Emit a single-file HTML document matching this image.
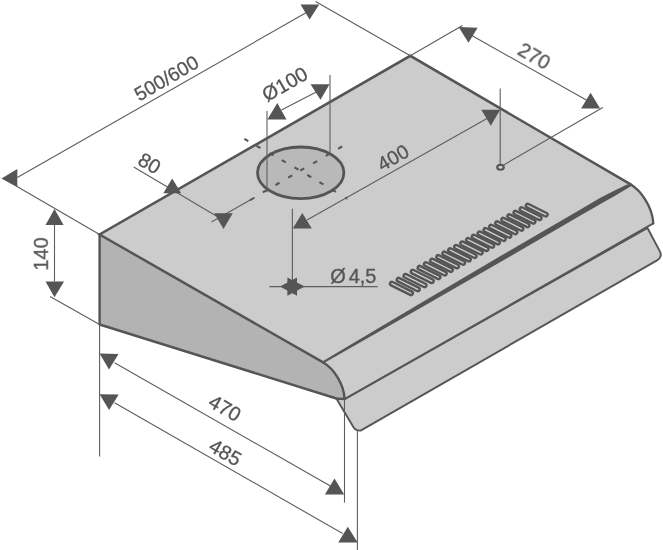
<!DOCTYPE html>
<html><head><meta charset="utf-8"><title>Hood dimensions</title>
<style>
html,body{margin:0;padding:0;background:#fff;}
body{width:663px;height:550px;overflow:hidden;font-family:"Liberation Sans",sans-serif;}
svg{display:block;}
svg text{font-family:"Liberation Sans",sans-serif;}
</style></head><body>
<svg width="663" height="550" viewBox="0 0 663 550">
<rect width="663" height="550" fill="#ffffff"/>
<path d="M336.40,398.50 L352.3,425.3 Q355.0,430.9 360.6,430.6 L656.6,260.6 Q662.6,257.0 660.0,251.6 L647.5,228.0 L344.50,399.10 Z" fill="#cccccc" stroke="#555555" stroke-width="1.9" stroke-linejoin="round"/>
<path d="M323.60,362.70 L631.10,184.70 C640.0,190.0 652.5,206.0 653.30,223.40 L344.50,399.10 C344.3,385 334,368.6 323.60,362.70 Z" fill="#cccccc"/>
<path d="M99.60,234.50 L323.60,362.70 C334,368.6 344.3,385 344.50,399.10 L336.40,398.50 L99.60,324.50 Z" fill="#b3b3b3"/>
<path d="M99.60,234.50 L410.30,55.80 L631.10,184.70 L323.60,362.70 Z" fill="#cccccc"/>
<path d="M653.30,223.40 L344.50,399.10" fill="none" stroke="#555555" stroke-width="1.8" stroke-linecap="round"/>
<path d="M631.10,184.70 C640.0,190.0 652.5,206.0 653.30,223.40" fill="none" stroke="#555555" stroke-width="2.3" stroke-linecap="round"/>
<path d="M323.60,362.70 C334,368.6 344.3,385 344.50,399.10 L336.40,398.50 L99.60,324.50 L99.60,234.50" fill="none" stroke="#555555" stroke-width="2.4" stroke-linejoin="round" stroke-linecap="round"/>
<path d="M323.60,362.70 L99.60,234.50 L410.30,55.80 L631.10,184.70" fill="none" stroke="#555555" stroke-width="2.5" stroke-linejoin="miter" stroke-linecap="round"/>
<polygon points="323.60,360.80 420.00,303.60 510.00,250.40 580.00,209.80 600.00,198.10 615.10,190.30 627.10,184.50 630.80,183.90 630.80,186.20 627.10,188.60 615.10,195.70 600.00,204.20 580.00,215.80 510.00,256.50 420.00,308.20 323.60,363.20" fill="#555555"/>
<ellipse cx="300.7" cy="172.8" rx="43.2" ry="25.8" fill="#b9b9b9" stroke="#555555" stroke-width="2.8"/>
<line x1="262.81" y1="192.45" x2="266.79" y2="190.15" stroke="#555555" stroke-width="2.1"/>
<line x1="275.51" y1="185.05" x2="279.49" y2="182.75" stroke="#555555" stroke-width="2.1"/>
<line x1="288.21" y1="177.65" x2="292.19" y2="175.35" stroke="#555555" stroke-width="2.1"/>
<line x1="300.21" y1="170.65" x2="304.19" y2="168.35" stroke="#555555" stroke-width="2.1"/>
<line x1="313.11" y1="163.35" x2="317.09" y2="161.05" stroke="#555555" stroke-width="2.1"/>
<line x1="325.81" y1="155.95" x2="329.79" y2="153.65" stroke="#555555" stroke-width="2.1"/>
<line x1="338.21" y1="148.75" x2="342.19" y2="146.45" stroke="#555555" stroke-width="2.1"/>
<line x1="244.31" y1="138.85" x2="248.29" y2="141.15" stroke="#555555" stroke-width="2.1"/>
<line x1="256.51" y1="145.85" x2="260.49" y2="148.15" stroke="#555555" stroke-width="2.1"/>
<line x1="269.61" y1="153.15" x2="273.59" y2="155.45" stroke="#555555" stroke-width="2.1"/>
<line x1="281.81" y1="160.15" x2="285.79" y2="162.45" stroke="#555555" stroke-width="2.1"/>
<line x1="294.51" y1="167.35" x2="298.49" y2="169.65" stroke="#555555" stroke-width="2.1"/>
<line x1="307.21" y1="174.95" x2="311.19" y2="177.25" stroke="#555555" stroke-width="2.1"/>
<line x1="319.41" y1="182.15" x2="323.39" y2="184.45" stroke="#555555" stroke-width="2.1"/>
<line x1="331.91" y1="189.55" x2="335.89" y2="191.85" stroke="#555555" stroke-width="2.1"/>
<line x1="391.83" y1="283.66" x2="411.07" y2="293.25" stroke="#555555" stroke-width="6.1" stroke-linecap="round"/>
<line x1="398.63" y1="279.76" x2="417.81" y2="289.32" stroke="#555555" stroke-width="6.1" stroke-linecap="round"/>
<line x1="405.43" y1="275.85" x2="424.56" y2="285.39" stroke="#555555" stroke-width="6.1" stroke-linecap="round"/>
<line x1="412.73" y1="271.66" x2="431.80" y2="281.17" stroke="#555555" stroke-width="6.1" stroke-linecap="round"/>
<line x1="419.53" y1="267.76" x2="438.54" y2="277.24" stroke="#555555" stroke-width="6.1" stroke-linecap="round"/>
<line x1="425.83" y1="264.14" x2="444.79" y2="273.60" stroke="#555555" stroke-width="6.1" stroke-linecap="round"/>
<line x1="432.03" y1="260.59" x2="450.93" y2="270.01" stroke="#555555" stroke-width="6.1" stroke-linecap="round"/>
<line x1="438.23" y1="257.03" x2="457.07" y2="266.42" stroke="#555555" stroke-width="6.1" stroke-linecap="round"/>
<line x1="444.33" y1="253.53" x2="463.12" y2="262.89" stroke="#555555" stroke-width="6.1" stroke-linecap="round"/>
<line x1="450.13" y1="250.20" x2="468.86" y2="259.53" stroke="#555555" stroke-width="6.1" stroke-linecap="round"/>
<line x1="456.03" y1="246.81" x2="474.70" y2="256.12" stroke="#555555" stroke-width="6.1" stroke-linecap="round"/>
<line x1="462.13" y1="243.31" x2="480.74" y2="252.59" stroke="#555555" stroke-width="6.1" stroke-linecap="round"/>
<line x1="468.03" y1="239.92" x2="486.59" y2="249.17" stroke="#555555" stroke-width="6.1" stroke-linecap="round"/>
<line x1="473.73" y1="236.65" x2="492.23" y2="245.87" stroke="#555555" stroke-width="6.1" stroke-linecap="round"/>
<line x1="479.53" y1="233.32" x2="497.97" y2="242.52" stroke="#555555" stroke-width="6.1" stroke-linecap="round"/>
<line x1="485.43" y1="229.93" x2="503.82" y2="239.10" stroke="#555555" stroke-width="6.1" stroke-linecap="round"/>
<line x1="491.13" y1="226.66" x2="509.46" y2="235.80" stroke="#555555" stroke-width="6.1" stroke-linecap="round"/>
<line x1="497.13" y1="223.22" x2="515.40" y2="232.33" stroke="#555555" stroke-width="6.1" stroke-linecap="round"/>
<line x1="503.23" y1="219.72" x2="521.45" y2="228.80" stroke="#555555" stroke-width="6.1" stroke-linecap="round"/>
<line x1="509.33" y1="216.22" x2="527.49" y2="225.27" stroke="#555555" stroke-width="6.1" stroke-linecap="round"/>
<line x1="515.43" y1="212.71" x2="533.53" y2="221.74" stroke="#555555" stroke-width="6.1" stroke-linecap="round"/>
<line x1="521.63" y1="209.16" x2="539.67" y2="218.15" stroke="#555555" stroke-width="6.1" stroke-linecap="round"/>
<line x1="527.73" y1="205.65" x2="545.72" y2="214.62" stroke="#555555" stroke-width="6.1" stroke-linecap="round"/>
<line x1="391.83" y1="283.66" x2="411.07" y2="293.25" stroke="#d0d0d0" stroke-width="1.3" stroke-linecap="round"/>
<line x1="398.63" y1="279.76" x2="417.81" y2="289.32" stroke="#d0d0d0" stroke-width="1.3" stroke-linecap="round"/>
<line x1="405.43" y1="275.85" x2="424.56" y2="285.39" stroke="#d0d0d0" stroke-width="1.3" stroke-linecap="round"/>
<line x1="412.73" y1="271.66" x2="431.80" y2="281.17" stroke="#d0d0d0" stroke-width="1.3" stroke-linecap="round"/>
<line x1="419.53" y1="267.76" x2="438.54" y2="277.24" stroke="#d0d0d0" stroke-width="1.3" stroke-linecap="round"/>
<line x1="425.83" y1="264.14" x2="444.79" y2="273.60" stroke="#d0d0d0" stroke-width="1.3" stroke-linecap="round"/>
<line x1="432.03" y1="260.59" x2="450.93" y2="270.01" stroke="#d0d0d0" stroke-width="1.3" stroke-linecap="round"/>
<line x1="438.23" y1="257.03" x2="457.07" y2="266.42" stroke="#d0d0d0" stroke-width="1.3" stroke-linecap="round"/>
<line x1="444.33" y1="253.53" x2="463.12" y2="262.89" stroke="#d0d0d0" stroke-width="1.3" stroke-linecap="round"/>
<line x1="450.13" y1="250.20" x2="468.86" y2="259.53" stroke="#d0d0d0" stroke-width="1.3" stroke-linecap="round"/>
<line x1="456.03" y1="246.81" x2="474.70" y2="256.12" stroke="#d0d0d0" stroke-width="1.3" stroke-linecap="round"/>
<line x1="462.13" y1="243.31" x2="480.74" y2="252.59" stroke="#d0d0d0" stroke-width="1.3" stroke-linecap="round"/>
<line x1="468.03" y1="239.92" x2="486.59" y2="249.17" stroke="#d0d0d0" stroke-width="1.3" stroke-linecap="round"/>
<line x1="473.73" y1="236.65" x2="492.23" y2="245.87" stroke="#d0d0d0" stroke-width="1.3" stroke-linecap="round"/>
<line x1="479.53" y1="233.32" x2="497.97" y2="242.52" stroke="#d0d0d0" stroke-width="1.3" stroke-linecap="round"/>
<line x1="485.43" y1="229.93" x2="503.82" y2="239.10" stroke="#d0d0d0" stroke-width="1.3" stroke-linecap="round"/>
<line x1="491.13" y1="226.66" x2="509.46" y2="235.80" stroke="#d0d0d0" stroke-width="1.3" stroke-linecap="round"/>
<line x1="497.13" y1="223.22" x2="515.40" y2="232.33" stroke="#d0d0d0" stroke-width="1.3" stroke-linecap="round"/>
<line x1="503.23" y1="219.72" x2="521.45" y2="228.80" stroke="#d0d0d0" stroke-width="1.3" stroke-linecap="round"/>
<line x1="509.33" y1="216.22" x2="527.49" y2="225.27" stroke="#d0d0d0" stroke-width="1.3" stroke-linecap="round"/>
<line x1="515.43" y1="212.71" x2="533.53" y2="221.74" stroke="#d0d0d0" stroke-width="1.3" stroke-linecap="round"/>
<line x1="521.63" y1="209.16" x2="539.67" y2="218.15" stroke="#d0d0d0" stroke-width="1.3" stroke-linecap="round"/>
<line x1="527.73" y1="205.65" x2="545.72" y2="214.62" stroke="#d0d0d0" stroke-width="1.3" stroke-linecap="round"/>
<ellipse cx="500.5" cy="167.3" rx="3.25" ry="2.45" fill="#d6d6d6" stroke="#555555" stroke-width="2.2"/>
<line x1="99.6" y1="234.5" x2="16.6" y2="186.3" stroke="#5e5e5e" stroke-width="1.1"/>
<line x1="17.3" y1="177.4" x2="309.5" y2="10.8" stroke="#5e5e5e" stroke-width="1.1"/>
<line x1="410.3" y1="55.8" x2="315.6" y2="1.5" stroke="#5e5e5e" stroke-width="1.1"/>
<line x1="410.3" y1="55.8" x2="462.5" y2="25.6" stroke="#5e5e5e" stroke-width="1.1"/>
<line x1="470.0" y1="34.5" x2="588.5" y2="101.2" stroke="#5e5e5e" stroke-width="1.1"/>
<line x1="503.3" y1="165.2" x2="602.8" y2="107.6" stroke="#5e5e5e" stroke-width="1.1"/>
<line x1="54.5" y1="225" x2="54.5" y2="281.5" stroke="#5e5e5e" stroke-width="1.1"/>
<line x1="50.0" y1="296.4" x2="99.6" y2="324.5" stroke="#5e5e5e" stroke-width="1.1"/>
<line x1="133.7" y1="167.0" x2="223.5" y2="220.2" stroke="#5e5e5e" stroke-width="1.1"/>
<line x1="211.5" y1="222.0" x2="253.7" y2="198.1" stroke="#5e5e5e" stroke-width="1.1"/>
<line x1="267.0" y1="111.0" x2="267.0" y2="192.3" stroke="#5e5e5e" stroke-width="1.1"/>
<line x1="330.0" y1="75.0" x2="330.0" y2="155.4" stroke="#5e5e5e" stroke-width="1.1"/>
<line x1="281.5" y1="110.1" x2="317.2" y2="91.5" stroke="#5e5e5e" stroke-width="1.1"/>
<line x1="292.4" y1="208.7" x2="292.4" y2="286.6" stroke="#5e5e5e" stroke-width="1.1"/>
<line x1="307.0" y1="220.1" x2="487.9" y2="117.9" stroke="#5e5e5e" stroke-width="1.1"/>
<line x1="500.2" y1="88.4" x2="500.2" y2="165.0" stroke="#5e5e5e" stroke-width="1.1"/>
<line x1="269.4" y1="286.6" x2="377.6" y2="286.6" stroke="#5e5e5e" stroke-width="1.1"/>
<line x1="99.6" y1="324.5" x2="99.6" y2="456.4" stroke="#5e5e5e" stroke-width="1.1"/>
<line x1="114.5" y1="362.7" x2="330.4" y2="486.0" stroke="#5e5e5e" stroke-width="1.1"/>
<line x1="114.5" y1="402.7" x2="342.7" y2="533.6" stroke="#5e5e5e" stroke-width="1.1"/>
<line x1="344.5" y1="399.0" x2="344.5" y2="502.7" stroke="#5e5e5e" stroke-width="1.1"/>
<line x1="357.4" y1="431.0" x2="357.4" y2="550.0" stroke="#5e5e5e" stroke-width="1.1"/>
<line x1="250.5" y1="199.9" x2="253.9" y2="198.0" stroke="#555555" stroke-width="1.8" stroke-linecap="round"/>
<line x1="345.6" y1="196.8" x2="347.2" y2="199.4" stroke="#555555" stroke-width="1.2"/>
<polygon points="1.50,178.50 17.30,169.10 17.30,187.30" fill="#555555"/>
<polygon points="300.50,4.50 319.20,4.50 309.60,19.60" fill="#555555"/>
<polygon points="45.50,224.90 63.60,224.90 54.50,209.10" fill="#555555"/>
<polygon points="45.50,281.50 64.00,281.50 54.50,297.30" fill="#555555"/>
<polygon points="163.30,193.20 181.20,193.20 172.20,178.60" fill="#555555"/>
<polygon points="214.20,213.20 232.80,213.20 223.50,228.90" fill="#555555"/>
<polygon points="267.40,119.40 286.50,119.40 277.30,103.10" fill="#555555"/>
<polygon points="310.50,84.30 329.60,84.30 320.50,99.80" fill="#555555"/>
<polygon points="292.80,228.50 311.80,228.50 302.30,212.90" fill="#555555"/>
<polygon points="481.30,109.70 500.20,109.70 490.80,125.70" fill="#555555"/>
<polygon points="458.60,27.10 477.60,27.80 468.50,42.80" fill="#555555"/>
<polygon points="581.10,108.60 600.10,108.60 590.60,92.80" fill="#555555"/>
<polygon points="99.60,353.60 118.50,354.00 109.00,369.50" fill="#555555"/>
<polygon points="324.90,494.40 344.20,494.40 334.50,478.50" fill="#555555"/>
<polygon points="99.60,394.20 118.70,394.50 109.10,410.00" fill="#555555"/>
<polygon points="338.20,542.40 357.60,542.40 347.80,526.70" fill="#555555"/>
<polygon points="304.70,286.60 287.40,277.50 287.40,295.70" fill="#555555"/>
<polygon points="279.90,286.60 297.00,277.50 297.00,295.70" fill="#555555"/>
<g style="opacity:0.999" stroke="#555555" stroke-width="0.3">
<text x="166.3" y="78.0" transform="rotate(-30 166.3 78.0)" font-size="19.5" text-anchor="middle" dominant-baseline="central" fill="#555555">500/600</text>
<text x="284.8" y="84" transform="rotate(-30 284.8 84)" font-size="20" text-anchor="middle" dominant-baseline="central" fill="#555555">&#216;100</text>
<text x="149.6" y="163.2" transform="rotate(30 149.6 163.2)" font-size="20" text-anchor="middle" dominant-baseline="central" fill="#555555">80</text>
<text x="393.0" y="157.5" transform="rotate(-30 393.0 157.5)" font-size="19.6" text-anchor="middle" dominant-baseline="central" fill="#555555">400</text>
<text x="534.3" y="56.2" transform="rotate(30 534.3 56.2)" font-size="20" text-anchor="middle" dominant-baseline="central" fill="#555555">270</text>
<text x="40.9" y="254" transform="rotate(-90 40.9 254)" font-size="20" text-anchor="middle" dominant-baseline="central" fill="#555555">140</text>
<text x="225" y="408" transform="rotate(30 225 408)" font-size="20" text-anchor="middle" dominant-baseline="central" fill="#555555">470</text>
<text x="225.4" y="452.4" transform="rotate(30 225.4 452.4)" font-size="20" text-anchor="middle" dominant-baseline="central" fill="#555555">485</text>
<text x="330.3" y="283.1" font-size="20" fill="#555555">&#216;<tspan dx="2.8">4,5</tspan></text>
</g>
</svg>
</body></html>
